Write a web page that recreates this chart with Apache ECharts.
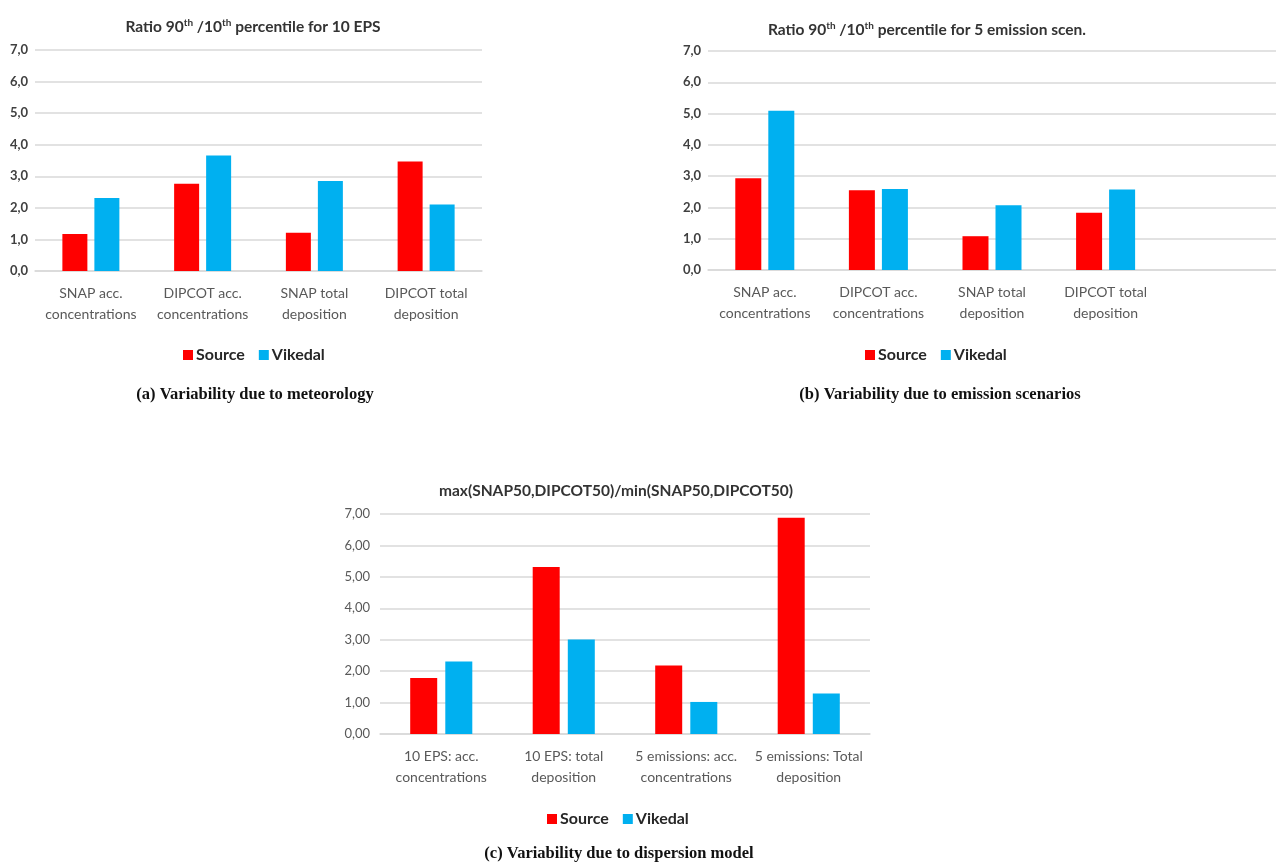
<!DOCTYPE html>
<html>
<head>
<meta charset="utf-8">
<script src="https://cdn.jsdelivr.net/npm/echarts@6/dist/echarts.min.js"></script>
<style>
html,body{margin:0;padding:0;background:#fff;}
#chart{width:1276px;height:862px;}
</style>
</head>
<body>
<div id="chart"></div>
<script>
// ---- data ----
const catsA = ['SNAP acc.\nconcentrations', 'DIPCOT acc.\nconcentrations', 'SNAP total\ndeposition', 'DIPCOT total\ndeposition'];
const sourceA = [1.17, 2.76, 1.21, 3.47];
const vikedalA = [2.31, 3.66, 2.85, 2.11];

const catsB = ['SNAP acc.\nconcentrations', 'DIPCOT acc.\nconcentrations', 'SNAP total\ndeposition', 'DIPCOT total\ndeposition', ''];
const sourceB = [2.93, 2.55, 1.08, 1.83];
const vikedalB = [5.09, 2.59, 2.07, 2.57];

const catsC = ['10 EPS: acc.\nconcentrations', '10 EPS: total\ndeposition', '5 emissions: acc.\nconcentrations', '5 emissions: Total\ndeposition'];
const sourceC = [1.78, 5.31, 2.18, 6.88];
const vikedalC = [2.31, 3.01, 1.02, 1.29];

const seriesNames = ['Source', 'Vikedal'];
const titleA = 'Ratio 90{s|th} /10{s|th} percentile for 10 EPS';
const titleB = 'Ratio 90{s|th} /10{s|th} percentile for 5 emission scen.';
const titleC = 'max(SNAP50,DIPCOT50)/min(SNAP50,DIPCOT50)';
const captions = ['(a) Variability due to meteorology', '(b) Variability due to emission scenarios', '(c) Variability due to dispersion model'];

// ---- styles ----
const RED = '#FF0000', BLUE = '#00B0F0';
const FONT = 'Lato, "Open Sans", sans-serif';
const gridColor = '#D9D9D9';

function titleObj(text, cx, cy) {
  return {
    text: text, left: cx, top: cy, textAlign: 'center', textVerticalAlign: 'middle',
    textStyle: {
      fontFamily: FONT, fontSize: 15.5, fontWeight: 'bold', color: '#333',
      rich: { s: { fontFamily: FONT, fontSize: 10, fontWeight: 'bold', color: '#333', verticalAlign: 'top', padding: [0, 0, 8, 0] } }
    }
  };
}
function captionObj(text, cx, cy) {
  return {
    text: text, left: cx, top: cy, textAlign: 'center', textVerticalAlign: 'middle',
    textStyle: { fontFamily: '"Liberation Serif", "DejaVu Serif", serif', fontSize: 16.5, fontWeight: 'bold', color: '#111' }
  };
}
function legendObj(idx, cx, cy) {
  return {
    data: seriesNames, left: cx - 72, top: cy - 10, icon: 'rect', itemWidth: 10, itemHeight: 10, itemGap: 14,
    textStyle: { fontFamily: FONT, fontSize: 16, fontWeight: 'bold', color: '#262626', padding: [0, 0, 0, -2] }
  };
}
function xAxisObj(idx, cats) {
  return {
    type: 'category', gridIndex: idx, data: cats,
    axisLine: { show: true, lineStyle: { color: gridColor, width: 1.5 } },
    axisTick: { show: false },
    axisLabel: { interval: 0, fontFamily: FONT, fontSize: 14, color: '#595959', lineHeight: 21, margin: 12 }
  };
}
function yAxisObj(idx, digits, bold) {
  return {
    type: 'value', gridIndex: idx, min: 0, max: 7, interval: 1,
    axisLine: { show: false }, axisTick: { show: false },
    splitLine: { lineStyle: { color: gridColor, width: 1.5 } },
    axisLabel: {
      fontFamily: FONT, fontSize: 13, fontWeight: bold ? 'bold' : 'normal', color: bold ? '#404040' : '#595959', margin: bold ? 7 : 10,
      formatter: v => v.toFixed(digits).replace('.', ',')
    }
  };
}
function barSeries(name, idx, data, color, width, gap) {
  return {
    type: 'bar', name: name, xAxisIndex: idx, yAxisIndex: idx, data: data,
    barWidth: width, barGap: gap, itemStyle: { color: color }, silent: true, animation: false
  };
}

const option = {
  animation: false,
  backgroundColor: '#fff',
  title: [
    titleObj(titleA, 248, 22), titleObj(titleB, 922, 25), titleObj(titleC, 611, 486),
    captionObj(captions[0], 250, 390), captionObj(captions[1], 935, 390), captionObj(captions[2], 614, 849)
  ],
  legend: [legendObj(0, 250, 352), legendObj(1, 932, 352), legendObj(2, 614, 816)],
  grid: [
    { left: 35, top: 50, width: 447, height: 221 },
    { left: 708, top: 51, width: 580, height: 219 },
    { left: 380, top: 514, width: 490, height: 220 }
  ],
  xAxis: [xAxisObj(0, catsA), xAxisObj(1, catsB), xAxisObj(2, catsC)],
  yAxis: [yAxisObj(0, 1, true), yAxisObj(1, 1, true), yAxisObj(2, 2, false)],
  series: [
    barSeries(seriesNames[0], 0, sourceA, RED, 25, '28%'),
    barSeries(seriesNames[1], 0, vikedalA, BLUE, 25, '28%'),
    barSeries(seriesNames[0], 1, sourceB, RED, 26, '27%'),
    barSeries(seriesNames[1], 1, vikedalB, BLUE, 26, '27%'),
    barSeries(seriesNames[0], 2, sourceC, RED, 27, '30%'),
    barSeries(seriesNames[1], 2, vikedalC, BLUE, 27, '30%')
  ]
};

const chart = echarts.init(document.getElementById('chart'), null, { renderer: 'canvas' });
chart.setOption(option);
</script>
</body>
</html>
